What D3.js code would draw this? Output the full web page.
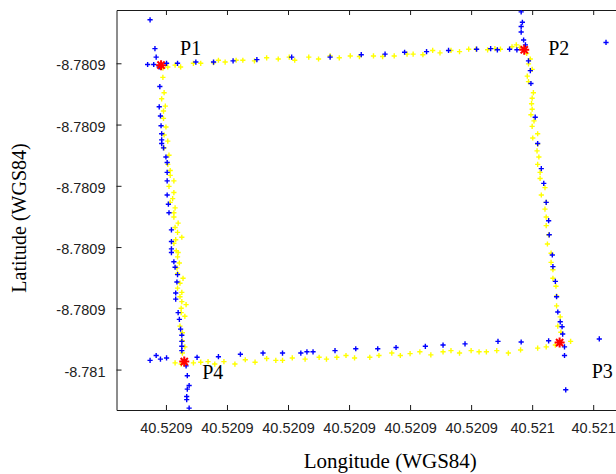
<!DOCTYPE html>
<html>
<head>
<meta charset="utf-8">
<script src="https://cdn.jsdelivr.net/npm/d3@7/dist/d3.min.js"></script>
<style>
  html, body { margin: 0; padding: 0; background: #fff; }
  svg { display: block; }
</style>
</head>
<body>
<svg id="chart" width="616" height="474"></svg>
<script>
// Reference origin of the surveyed square (degrees, WGS84)
const lonBase = 40.52089;
const latBase = -8.78090;

// Offsets from the origin in micro-degrees (1e-6 deg)
// Yellow track (filtered positions)
const yellowLon = [0.3,1.5,2.4,4.5,5.7,7.8,8.6,9.7,11.5,12.6,14.5,16.5,18.4,20.2,21.1,23.4,25.0,26.9,28.4,30.2,31.7,34.0,35.5,37.4,39.5,40.5,42.1,43.7,44.9,46.7,48.1,49.6,50.8,52.7,53.9,54.8,56.7,57.4,58.0,
  59.1,59.7,59.4,60.0,59.2,59.4,60.2,60.0,59.9,60.0,59.8,60.3,60.0,60.9,60.1,60.9,60.8,61.1,60.9,61.3,61.3,62.1,61.5,62.3,62.1,62.3,62.3,62.7,62.5,63.1,63.1,63.4,63.4,63.9,64.0,64.0,64.6,64.2,64.7,66.3,63.8,
  62.3,60.9,58.1,56.1,54.2,52.5,51.3,50.0,48.1,46.7,45.4,43.4,41.6,40.0,38.4,37.0,34.9,33.4,30.9,29.5,28.0,26.3,25.1,22.8,20.7,19.1,18.0,16.5,14.6,13.0,11.3,9.5,8.0,6.9,5.7,4.5,2.5,1.5,
  2.7,3.1,2.7,2.7,2.3,3.1,2.5,2.5,3.3,2.6,2.3,2.6,1.9,2.3,2.8,1.9,1.8,2.2,1.9,2.0,1.7,1.3,1.6,2.6,1.9,1.5,2.0,1.3,1.3,1.5,0.7,1.1,1.3,0.5,1.3,0.7,0.7,0.3,0.5,-0.3,0.3,-0.3,0.0,-0.4,-0.4,-0.1,-0.7,-0.3,-0.5,-0.5];
const yellowLat = [-0.6,-0.3,-0.6,0,0,0.1,0.5,0.2,0.5,0.5,0.4,0.9,0.7,1.0,0.5,1.0,0.7,1.2,0.9,1.2,1.1,1.2,1.1,1.2,1.5,1.5,1.4,2.1,1.7,2.1,1.9,2.3,2.3,2.2,2.4,2.3,2.7,3.0,2.6,
  1.6,0.7,-0.1,-1.0,-2.1,-3.0,-4.8,-5.7,-6.6,-7.5,-8.4,-9.4,-10.3,-11.5,-12.2,-13.2,-14.3,-15.3,-16.5,-17.8,-18.8,-20.3,-21.5,-22.7,-23.8,-25.1,-26.5,-28.0,-29.5,-31.0,-32.5,-33.7,-35.1,-36.4,-38.0,-39.6,-41.4,-42.9,-43.9,-45.4,-46.0,
  -46.3,-46.5,-46.8,-47.3,-46.9,-47.1,-47.1,-46.9,-47.3,-46.9,-47.1,-47.6,-47.1,-47.4,-47.7,-47.3,-47.7,-48.0,-48.1,-47.7,-48.0,-48.3,-48.0,-48.3,-48.1,-48.5,-48.5,-48.2,-48.8,-48.4,-49.1,-48.7,-49.1,-48.7,-48.8,-48.9,-49.1,-48.9,
  -47.3,-46.3,-45.3,-44.0,-42.9,-41.3,-40.7,-40.0,-39.4,-38.9,-38.1,-37.4,-36.7,-35.9,-35.1,-34.3,-33.4,-32.6,-31.6,-30.9,-30.6,-29.4,-28.8,-28.4,-27.6,-26.8,-26.1,-25.1,-24.4,-23.6,-22.7,-22.1,-21.1,-20.1,-19.2,-18.3,-17.5,-16.5,-15.0,-13.8,-12.7,-11.7,-10.4,-9.0,-7.8,-7.0,-5.8,-4.8,-2.3,-0.8];

// Blue track (raw GPS positions)
const blueLon = [-2.6,-1.8,-1.6,-3.0,-2.0,-1.1,0.1,1.9,4.9,7.8,11.0,14.9,20.6,26.9,32.0,35.9,39.1,42.7,46.3,50.9,53.2,54.3,56.3,57.5,58.9,
  58.2,58.4,58.2,58.2,58.6,59.4,59.7,59.8,60.5,72.1,60.9,61.5,61.9,62.3,62.7,62.8,63.3,63.4,63.8,64.0,64.2,64.6,64.9,65.0,65.3,65.3,65.5,71.0,
  62.7,58.2,54.4,49.0,45.4,42.5,37.7,34.7,31.1,27.7,24.1,23.1,22.1,19.1,15.9,12.2,8.6,5.1,-2.6,-1.6,-0.9,0.1,
  3.3,3.5,3.8,3.5,3.4,3.4,3.8,2.6,2.6,2.6,2.6,2.4,2.2,2.0,1.6,1.6,1.8,1.9,1.5,1.3,0.9,0.9,0.9,0.9,0.5,0.4,0.2,0.2,0.2,0.2,0.0,-0.4,-0.7,-0.7,-0.7,-0.8,-0.9,-1.1,-1.0];
const blueLat = [7.1,2.4,1.0,-0.2,-0.2,-0.6,0,0.0,0.2,0.2,0.4,0.6,1.0,1.0,1.4,1.5,1.8,1.9,2.1,2.3,2.4,2.2,2.3,2.2,3.0,
  8.4,6.7,6.0,5.1,3.8,0.4,-1.2,-3.3,-8.8,3.4,-13.1,-17.2,-19.6,-22.7,-25.7,-28.0,-31.3,-33.2,-35.6,-38.1,-40.6,-42.2,-43.0,-44.2,-46.3,-47.7,-53.3,-45.0,
  -45.3,-45.5,-45.4,-45.8,-46.0,-46.2,-46.4,-46.6,-46.6,-46.9,-47.1,-47.1,-47.3,-47.3,-47.3,-47.5,-47.9,-48.0,-48.5,-47.7,-48.3,-48.1,
  -49.4,-51.0,-52.6,-53.2,-54.4,-54.9,-56.3,-46.9,-46.2,-45.4,-44.4,-43.4,-41.8,-40.7,-38.5,-37.5,-35.7,-34.5,-33.3,-32.4,-30.9,-30.3,-29.1,-27.2,-24.4,-23.0,-21.5,-19.2,-17.8,-16.2,-15.3,-13.8,-13.1,-12.5,-11.5,-10.2,-8.6,-7.1,-3.8];

// Estimated corners (red)
const cornerNames = ["P1", "P2", "P3", "P4"];
const cornerLon = [-0.8, 58.7, 64.5, 3.0];
const cornerLat = [-0.3, 2.2, -45.6, -48.7];

// Axis ticks (micro-degree offsets) and their printed labels
const xTickOffsets = [0, 10, 20, 30, 40, 50, 60, 70];
const xTickLabels = ["40.5209","40.5209","40.5209","40.5209","40.5209","40.5209","40.521","40.521"];
const yTickOffsets = [0, -10, -20, -30, -40, -50];
const yTickLabels = ["-8.7809","-8.7809","-8.7809","-8.7809","-8.7809","-8.781"];

const toLon = d => lonBase + d * 1e-6;
const toLat = d => latBase + d * 1e-6;

// ---- layout ----
const svg = d3.select("#chart");
const mLeft = 116.5, mTop = 10, mRight = 664, mBottom = 410;

const x = d3.scaleLinear().domain([toLon(-8.1), toLon(81.6)]).range([mLeft, mRight]);
const y = d3.scaleLinear().domain([toLat(-56.6), toLat(8.7)]).range([mBottom, mTop]);

const axisColor = "#1a1a1a";

svg.append("defs").append("clipPath").attr("id", "plotclip")
  .append("rect").attr("x", mLeft).attr("y", mTop).attr("width", mRight - mLeft).attr("height", mBottom - mTop);

const tickFont = "'Liberation Sans', Arial, Helvetica, sans-serif";
const xb = d3.axisBottom(x).tickValues(xTickOffsets.map(toLon)).tickSizeInner(-5).tickSizeOuter(0)
  .tickFormat((d, i) => xTickLabels[i]).tickPadding(13);
const xt = d3.axisTop(x).tickValues(xTickOffsets.map(toLon)).tickSizeInner(-5).tickSizeOuter(0).tickFormat("");
const yl = d3.axisLeft(y).tickValues(yTickOffsets.map(toLat)).tickSizeInner(-5).tickSizeOuter(0)
  .tickFormat((d, i) => yTickLabels[i]).tickPadding(11);

const gxb = svg.append("g").attr("transform", `translate(0,${mBottom})`).call(xb);
const gxt = svg.append("g").attr("transform", `translate(0,${mTop})`).call(xt);
const gyl = svg.append("g").attr("transform", `translate(${mLeft},0)`).call(yl);
[gxb, gxt, gyl].forEach(g => {
  g.select(".domain").attr("stroke", axisColor).attr("stroke-width", 1);
  g.selectAll(".tick line").attr("stroke", axisColor).attr("stroke-width", 1);
  g.selectAll(".tick text").attr("fill", "#222").attr("font-family", tickFont).attr("font-size", "14.5px");
});
gyl.selectAll(".tick text").attr("dy", "0.45em");
gxb.selectAll(".tick text").attr("dy", "0.71em");

const plot = svg.append("g").attr("clip-path", "url(#plotclip)");
const plusPath = "M-2.6,0H2.6M0,-2.6V2.6";

const yellowData = yellowLon.map((d, i) => ({ lon: toLon(d), lat: toLat(yellowLat[i]) }));
const blueData = blueLon.map((d, i) => ({ lon: toLon(d), lat: toLat(blueLat[i]) }));
const cornerData = cornerLon.map((d, i) => ({ name: cornerNames[i], lon: toLon(d), lat: toLat(cornerLat[i]) }));

plot.selectAll("path.yellow").data(yellowData).join("path")
  .attr("class", "yellow").attr("d", plusPath)
  .attr("transform", d => `translate(${x(d.lon)},${y(d.lat)})`)
  .attr("stroke", "#ffff00").attr("stroke-width", 1.4).attr("fill", "none");

plot.selectAll("path.blue").data(blueData).join("path")
  .attr("class", "blue").attr("d", plusPath)
  .attr("transform", d => `translate(${x(d.lon)},${y(d.lat)})`)
  .attr("stroke", "#0000ff").attr("stroke-width", 1.4).attr("fill", "none");

const starPath = "M-5,0H5M0,-5V5M-3.6,-3.6L3.6,3.6M-3.6,3.6L3.6,-3.6";
plot.selectAll("path.corner").data(cornerData).join("path")
  .attr("class", "corner").attr("d", starPath)
  .attr("transform", d => `translate(${x(d.lon)},${y(d.lat)})`)
  .attr("stroke", "#ff0000").attr("stroke-width", 2).attr("fill", "none");

const labelOffsets = { P1: [19, -10], P2: [24, 5], P3: [32, 35], P4: [18, 17] };
svg.selectAll("text.corner-label").data(cornerData).join("text")
  .attr("class", "corner-label")
  .attr("x", d => x(d.lon) + labelOffsets[d.name][0])
  .attr("y", d => y(d.lat) + labelOffsets[d.name][1])
  .attr("font-family", "'Liberation Serif', 'Times New Roman', serif")
  .attr("font-size", "20px").attr("fill", "#000")
  .text(d => d.name);

svg.append("text")
  .attr("x", (mLeft + mRight) / 2).attr("y", 468)
  .attr("text-anchor", "middle")
  .attr("font-family", "'Liberation Serif', 'Times New Roman', serif")
  .attr("font-size", "21px").attr("fill", "#000")
  .text("Longitude (WGS84)");

svg.append("text")
  .attr("transform", `translate(25.5,${218}) rotate(-90)`)
  .attr("text-anchor", "middle")
  .attr("font-family", "'Liberation Serif', 'Times New Roman', serif")
  .attr("font-size", "20px").attr("fill", "#000")
  .text("Latitude (WGS84)");
</script>
</body>
</html>
